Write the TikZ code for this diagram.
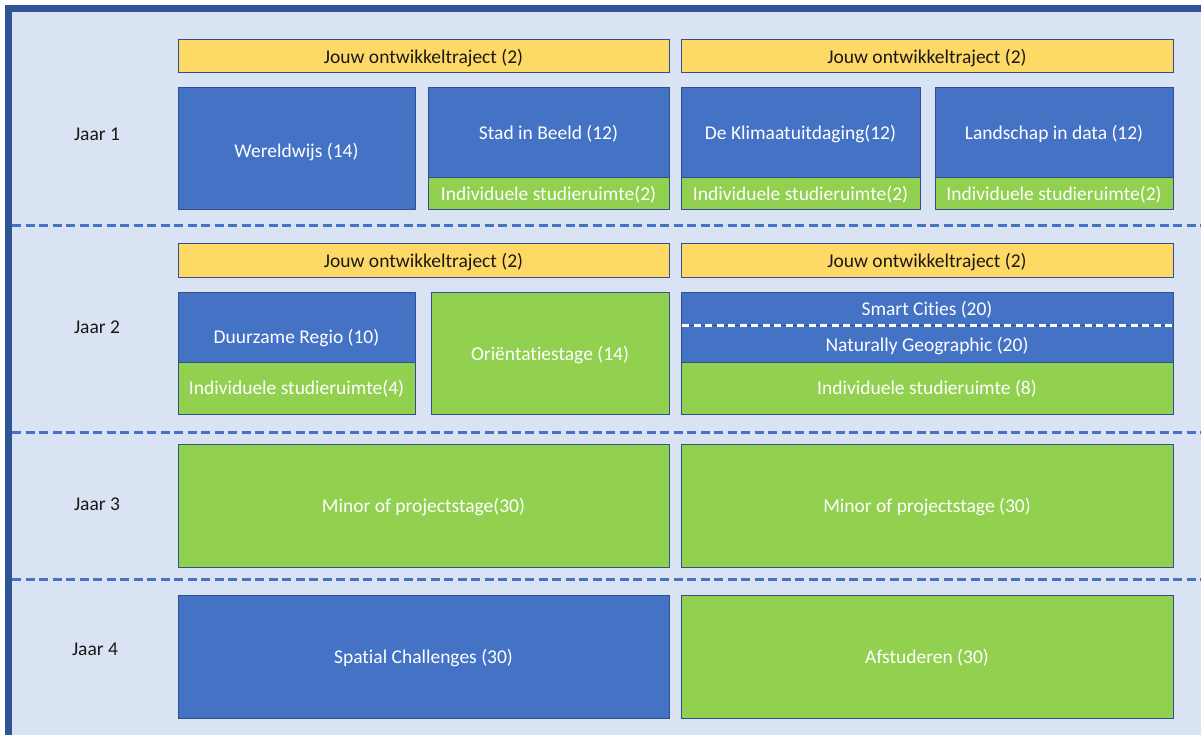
\documentclass[tikz,border=0pt]{standalone}
\usepackage{fontspec}
\setmainfont{Carlito}[Ligatures=NoCommon]
\definecolor{bgblue}{HTML}{DAE3F3}
\definecolor{frameblue}{HTML}{2F5597}
\definecolor{cellblue}{HTML}{4472C4}
\definecolor{cellgreen}{HTML}{92D050}
\definecolor{cellyellow}{HTML}{FFD966}
\definecolor{edgeblue}{HTML}{2F528F}
\tikzset{
  cell/.style={draw=edgeblue, line width=1pt},
  bluecell/.style={cell, fill=cellblue},
  greencell/.style={cell, fill=cellgreen},
  yellowcell/.style={cell, fill=cellyellow},
  wtext/.style={text=white, font=\fontsize{19.5}{23}\selectfont, inner sep=0pt, yshift=-1pt},
  ktext/.style={text=black!90, font=\fontsize{19.5}{23}\selectfont, inner sep=0pt, yshift=-1pt},
  sep/.style={draw=cellblue, line width=3pt, dash pattern=on 9pt off 4.5pt},
  wsep/.style={draw=white, line width=3pt, dash pattern=on 7pt off 4.5pt}
}
\begin{document}
\begin{tikzpicture}[x=1pt,y=-1pt]
\useasboundingbox (0,0) rectangle (1201,735);
\clip (0,0) rectangle (1201,735);
\fill[white] (0,0) rectangle (1201,735);
\draw[frameblue, fill=bgblue, line width=7pt] (8.5,8.5) rectangle (1220,760);
% separators
\coordinate (s1a) at (12,226); \coordinate (s1b) at (1201,226);
\coordinate (s2a) at (12,432); \coordinate (s2b) at (1201,432);
\coordinate (s3a) at (12,579); \coordinate (s3b) at (1201,579);
\draw[sep] (s1a) -- (s1b);
\draw[sep] (s2a) -- (s2b);
\draw[sep] (s3a) -- (s3b);
% year labels
\node[ktext] (j1) at (97,133) {Jaar 1};
\node[ktext] (j2) at (97,326) {Jaar 2};
\node[ktext] (j3) at (97,503) {Jaar 3};
\node[ktext] (j4) at (95,648) {Jaar 4};
% Row 1
\draw[yellowcell] (178,40) rectangle (669,73);
\node[ktext] (y1a) at (423.5,57) {Jouw ontwikkeltraject (2)};
\draw[yellowcell] (681,40) rectangle (1173,73);
\node[ktext] (y1b) at (927,57) {Jouw ontwikkeltraject (2)};
\draw[bluecell] (178,88) rectangle (415,210);
\node[wtext] (ww) at (296.5,151) {Wereldwijs (14)};
\draw[bluecell] (428,88) rectangle (669,178);
\node[wtext] (sb) at (548.5,133) {Stad in Beeld (12)};
\draw[greencell] (428,178) rectangle (669,210);
\node[wtext] (is1) at (548.5,194) {Individuele studieruimte(2)};
\draw[bluecell] (681,88) rectangle (920,178);
\node[wtext] (kl) at (800.5,133) {De Klimaatuitdaging(12)};
\draw[greencell] (681,178) rectangle (920,210);
\node[wtext] (is2) at (800.5,194) {Individuele studieruimte(2)};
\draw[bluecell] (935,88) rectangle (1173,178);
\node[wtext] (ld) at (1054,133) {Landschap in data (12)};
\draw[greencell] (935,178) rectangle (1173,210);
\node[wtext] (is3) at (1054,194) {Individuele studieruimte(2)};
% Row 2
\draw[yellowcell] (178,244) rectangle (669,277);
\node[ktext] (y2a) at (423.5,261) {Jouw ontwikkeltraject (2)};
\draw[yellowcell] (681,244) rectangle (1173,277);
\node[ktext] (y2b) at (927,261) {Jouw ontwikkeltraject (2)};
\draw[bluecell] (178,292) rectangle (415,362);
\node[wtext] (dr) at (296.5,337) {Duurzame Regio (10)};
\draw[greencell] (178,362) rectangle (415,414);
\node[wtext] (is4) at (296.5,388) {Individuele studieruimte(4)};
\draw[greencell] (431,292) rectangle (669,414);
\node[wtext] (os) at (550,354) {Oriëntatiestage (14)};
\draw[bluecell] (681,292) rectangle (1173,325);
\draw[bluecell] (681,325) rectangle (1173,362);
\coordinate (wa) at (682,325); \coordinate (wb) at (1173,325);
\draw[wsep] (wa) -- (wb);
\node[wtext] (sc) at (927,309) {Smart Cities (20)};
\node[wtext] (ng) at (927,345) {Naturally Geographic (20)};
\draw[greencell] (681,362) rectangle (1173,414);
\node[wtext] (is8) at (927,388) {Individuele studieruimte (8)};
% Row 3
\draw[greencell] (178,444) rectangle (669,567);
\node[wtext] (m1) at (423.5,506) {Minor of projectstage(30)};
\draw[greencell] (681,444) rectangle (1173,567);
\node[wtext] (m2) at (927,506) {Minor of projectstage (30)};
% Row 4
\draw[bluecell] (178,595) rectangle (669,718);
\node[wtext] (sp) at (423.5,657) {Spatial Challenges (30)};
\draw[greencell] (681,595) rectangle (1173,718);
\node[wtext] (af) at (927,657) {Afstuderen (30)};
\end{tikzpicture}
\end{document}
